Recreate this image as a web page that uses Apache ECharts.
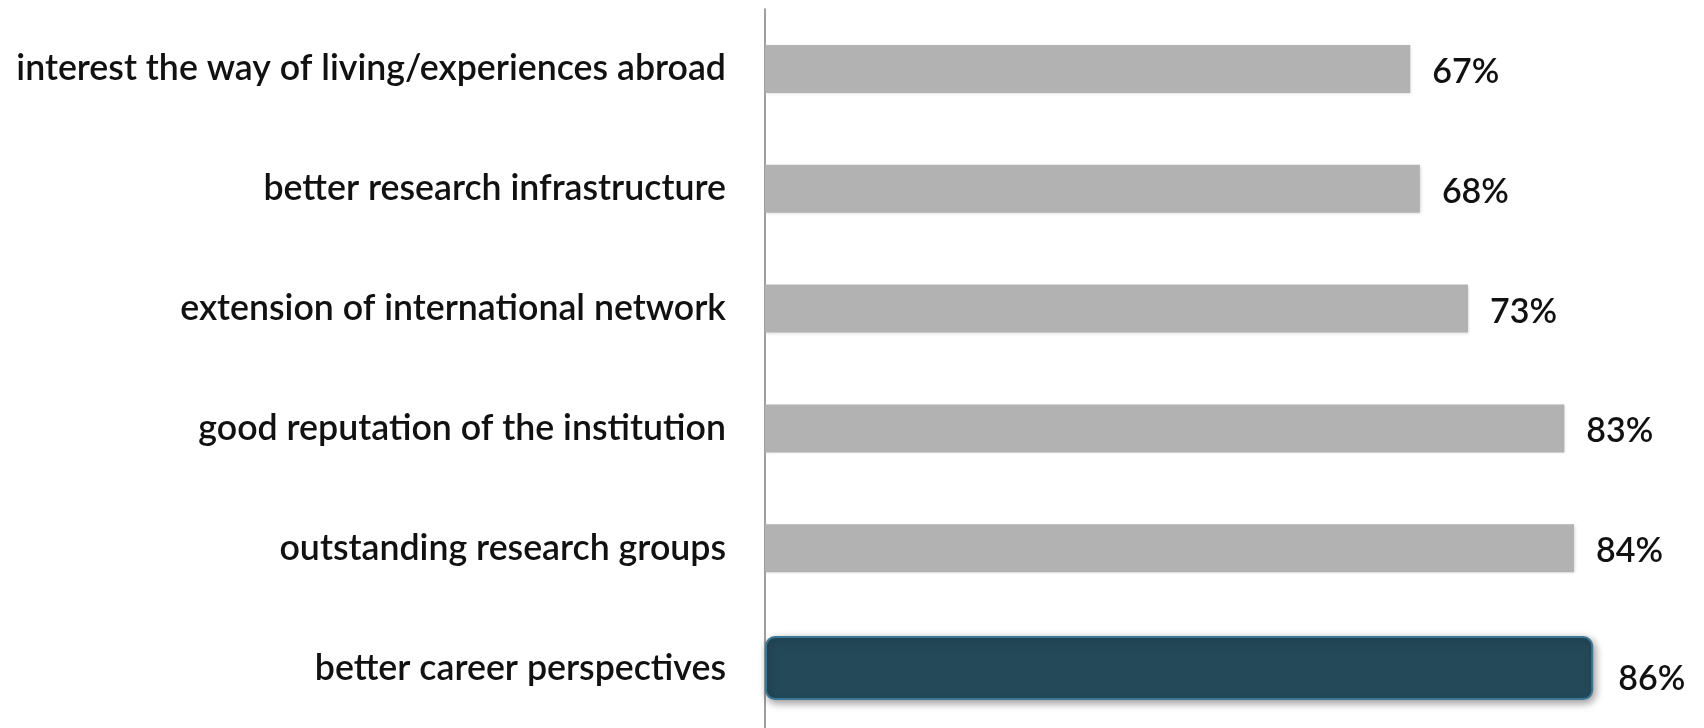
<!DOCTYPE html>
<html>
<head>
<meta charset="utf-8">
<script src="https://cdn.jsdelivr.net/npm/echarts@6/dist/echarts.min.js"></script>
<style>
html,body{margin:0;padding:0;background:#fff;}
#chart{width:1704px;height:728px;}
</style>
</head>
<body>
<div id="chart"></div>
<script>
// categories, top to bottom
let categories=[
  "interest the way of living/experiences abroad",
  "better research infrastructure",
  "extension of international network",
  "good reputation of the institution",
  "outstanding research groups",
  "better career perspectives"
]
let greyValues=[67,68,73,83,84,null]
let highlightValues=[null,null,null,null,null,86]

let myChart=echarts.init(document.getElementById("chart"))
let labelFont="Lato, 'Open Sans', sans-serif"

myChart.setOption({
  animation:false,
  grid:{
    left:765,
    top:9,
    right:0,
    height:723
  },
  xAxis:{
    type:"value",
    min:0,
    max:97.5,
    show:false
  },
  yAxis:[
    {
      type:"category",
      data:categories,
      inverse:true,
      axisTick:{show:false},
      axisLine:{lineStyle:{color:"#7f7f7f",width:1.5}},
      axisLabel:{
        margin:39,
        color:"#111",
        fontSize:35.7,
        fontWeight:600,
        fontFamily:labelFont
      }
    },
    {
      type:"category",
      data:categories,
      inverse:true,
      show:false
    }
  ],
  series:[
    {
      type:"bar",
      data:greyValues,
      barWidth:48,
      itemStyle:{
        color:"#b2b2b2",
        shadowBlur:3,
        shadowColor:"rgba(0,0,0,0.15)",
        shadowOffsetX:1,
        shadowOffsetY:1
      },
      label:{
        show:true,
        position:"right",
        distance:22,
        formatter:"{c}%",
        color:"#111",
        fontSize:34,
        fontWeight:600,
        fontFamily:labelFont,
        offset:[0,3]
      }
    },
    {
      type:"bar",
      yAxisIndex:1,
      data:highlightValues,
      barWidth:64,
      itemStyle:{
        color:"#244a5a",
        borderColor:"#3b7898",
        borderWidth:2,
        borderRadius:9,
        shadowBlur:8,
        shadowColor:"rgba(0,0,0,0.4)",
        shadowOffsetX:2,
        shadowOffsetY:3
      },
      label:{
        show:true,
        position:"right",
        distance:25,
        formatter:"{c}%",
        color:"#111",
        fontSize:34,
        fontWeight:600,
        fontFamily:labelFont,
        offset:[0,11]
      }
    }
  ]
})
</script>
</body>
</html>
